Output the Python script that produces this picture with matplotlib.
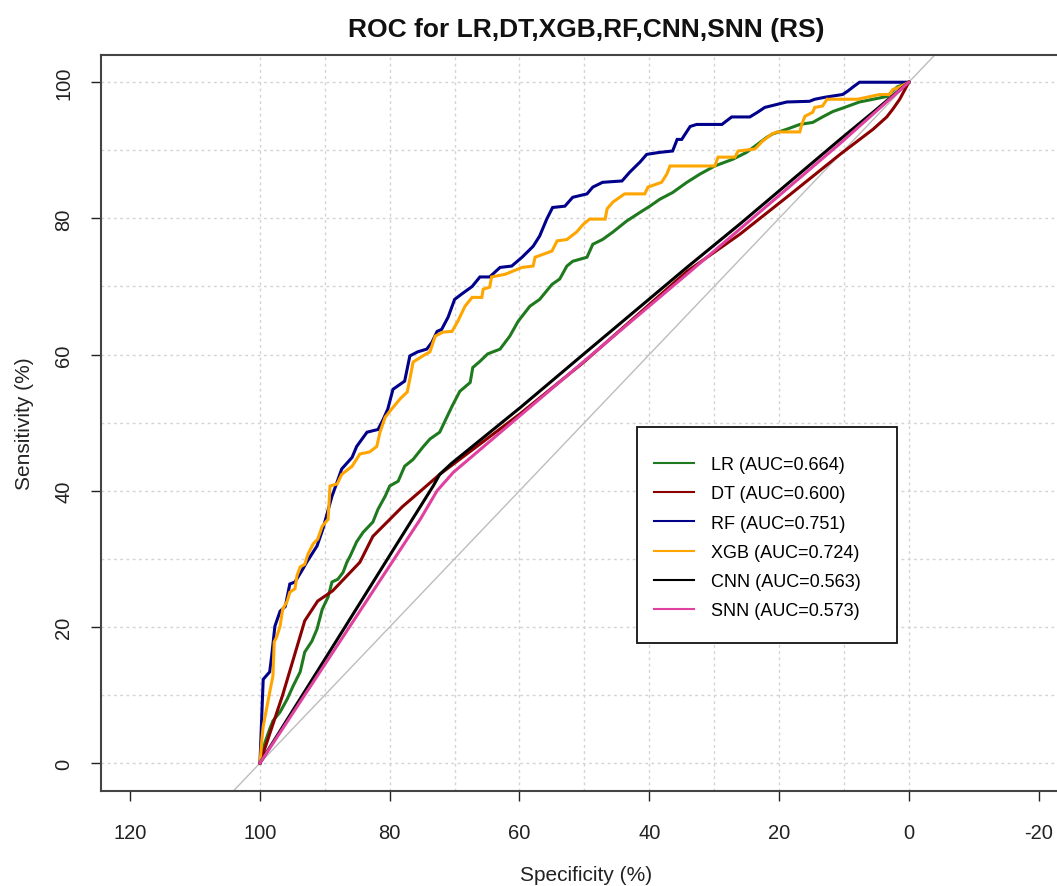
import matplotlib
matplotlib.use("Agg")
import matplotlib.pyplot as plt
from matplotlib.patches import Rectangle

plt.rcParams['font.family'] = ['Liberation Sans', 'DejaVu Sans']
plt.rcParams['axes.unicode_minus'] = False

# ROC curves (specificity %, sensitivity %)
lr_spec = [100, 99.2, 98.5, 98.0, 96.9, 95.8, 94.9, 93.8, 93.1, 92.0, 91.2, 90.4, 89.5, 88.9, 88.0,
           87.2, 86.6, 86.1, 85.1, 84.1, 82.6, 81.8, 80.7, 80.0, 78.7, 77.7, 76.4, 74.9, 73.8, 72.3,
           71.2, 70.4, 69.2, 67.6, 67.2, 66.1, 64.9, 63.0, 61.5, 60.2, 58.4, 56.9, 55.0, 53.8, 52.7,
           51.8, 49.6, 48.7, 47.2, 45.6, 43.5, 41.4, 39.9, 38.4, 36.4, 34.2, 32.2, 29.9, 27.1, 25.0,
           23.3, 21.9, 21.0, 18.8, 16.8, 14.8, 13.3, 11.7, 9.9, 7.6, 5.5, 3.4, 1.8, 0]
lr_sens = [0, 3.1, 5.0, 6.2, 7.5, 9.4, 11.3, 13.4, 16.3, 17.9, 19.7, 22.6, 24.4, 26.6, 27.0,
           28.0, 29.5, 30.4, 32.5, 33.9, 35.4, 37.3, 39.2, 40.7, 41.4, 43.6, 44.6, 46.4, 47.6, 48.6,
           50.8, 52.4, 54.6, 55.9, 58.1, 59.0, 60.1, 60.8, 62.7, 64.9, 67.1, 68.1, 70.3, 71.1, 73.0,
           73.7, 74.3, 76.2, 76.9, 78.0, 79.6, 80.9, 81.8, 82.8, 83.8, 85.3, 86.5, 87.7, 88.7, 89.7,
           90.9, 91.9, 92.4, 93.1, 93.8, 94.1, 94.9, 95.7, 96.3, 97.1, 97.5, 97.9, 99.3, 100]

dt_spec = [100, 96.5, 93.1, 91.1, 88.8, 86.6, 84.6, 82.6, 78.0, 75.8, 72.3, 59.9, 50.2, 34.2,
           26.0, 18.3, 10.6, 5.5, 3.4, 2.5, 1.4, 0]
dt_sens = [0, 10.0, 20.9, 23.8, 25.3, 27.5, 29.5, 33.3, 37.7, 39.5, 42.4, 51.3, 58.8, 72.2,
           77.7, 83.5, 89.4, 93.1, 94.9, 96.0, 97.5, 100]

rf_spec = [100, 99.7, 99.5, 98.5, 98.2, 97.7, 96.9, 96.1, 95.4, 94.6, 93.4, 92.8, 91.2, 90.3, 88.9,
           88.1, 87.4, 85.8, 85.1, 83.5, 81.8, 81.0, 80.3, 79.5, 77.7, 76.9, 75.7, 74.3, 73.5, 72.7,
           72.0, 71.0, 70.0, 68.9, 67.3, 66.1, 64.6, 63.0, 61.2, 59.6, 57.9, 56.9, 55.8, 54.9, 53.0,
           51.8, 49.6, 48.7, 47.2, 44.2, 43.0, 41.4, 40.4, 38.4, 36.4, 35.7, 35.0, 33.7, 32.7, 28.8,
           27.3, 24.5, 23.3, 22.2, 18.8, 15.3, 14.5, 12.9, 10.2, 9.4, 8.6, 7.6, 0]
rf_sens = [0, 7.5, 12.3, 13.4, 15.7, 20.1, 22.3, 23.0, 26.3, 26.6, 28.5, 29.5, 31.9, 34.4, 39.2,
           41.3, 43.2, 44.9, 46.5, 48.6, 49.0, 50.5, 52.0, 54.9, 56.1, 59.8, 60.4, 60.8, 61.8, 63.4,
           63.7, 65.5, 68.1, 68.9, 70.0, 71.4, 71.4, 72.8, 73.0, 74.3, 75.9, 77.4, 79.9, 81.6, 81.8,
           83.1, 83.6, 84.6, 85.3, 85.5, 86.8, 88.3, 89.4, 89.7, 89.9, 91.6, 91.6, 93.5, 93.8, 93.8,
           94.9, 94.9, 95.6, 96.3, 97.1, 97.2, 97.5, 97.8, 98.2, 98.7, 99.3, 100, 100]

xgb_spec = [100, 99.7, 99.5, 98.9, 98.5, 98.0, 97.8, 97.4, 96.9, 96.5, 95.8, 95.4, 94.6, 94.3, 93.8,
            93.1, 92.6, 91.8, 91.1, 90.4, 89.5, 89.2, 88.1, 87.4, 85.8, 84.6, 83.1, 82.0, 81.5, 80.7,
            79.7, 78.4, 77.3, 76.9, 76.4, 74.9, 73.8, 73.0, 71.8, 70.4, 69.5, 68.4, 67.3, 65.8, 65.6,
            64.6, 64.3, 62.2, 59.6, 57.9, 57.6, 55.0, 54.2, 52.7, 51.2, 50.2, 49.2, 46.8, 46.5, 45.6,
            43.8, 40.7, 40.2, 38.1, 37.3, 36.8, 29.9, 29.4, 26.8, 26.3, 23.7, 22.6, 21.1, 20.3, 16.8,
            16.5, 16.0, 14.8, 14.5, 13.3, 12.6, 7.9, 4.5, 2.9, 2.5, 1.4, 0]
xgb_sens = [0, 3.5, 5.4, 8.4, 10.4, 12.8, 17.8, 18.6, 20.1, 22.6, 23.8, 25.1, 25.6, 27.5, 28.8,
            29.2, 30.7, 32.2, 32.9, 34.8, 35.8, 40.7, 41.0, 42.4, 43.6, 45.4, 45.7, 46.5, 48.6, 50.8,
            52.0, 53.5, 54.5, 56.4, 58.9, 59.8, 60.4, 62.7, 63.3, 63.4, 64.9, 67.1, 68.4, 68.4, 69.6,
            69.9, 71.4, 71.8, 72.8, 73.0, 74.3, 75.2, 76.7, 76.9, 78.0, 79.1, 79.9, 79.9, 81.4, 82.4,
            83.6, 83.6, 84.6, 85.3, 86.5, 87.7, 87.7, 89.0, 89.0, 89.9, 90.2, 91.3, 92.4, 92.7, 92.7,
            93.8, 95.0, 95.6, 96.3, 96.5, 97.5, 97.5, 98.2, 98.2, 98.9, 99.3, 100]

cnn_spec = [100, 80.0, 73.3, 72.3, 70.5, 59.9, 50.2, 34.2, 26.0, 18.3, 10.6, 5.5, 0]
cnn_sens = [0, 30.5, 40.7, 42.4, 44.0, 52.2, 60.0, 72.8, 79.2, 85.4, 91.6, 95.6, 100]

snn_spec = [100, 75.3, 72.7, 70.2, 49.7, 33.7, 10.6, 0]
snn_sens = [0, 35.8, 40.0, 42.7, 59.3, 72.2, 91.0, 100]

labels = ['LR (AUC=0.664)', 'DT (AUC=0.600)', 'RF (AUC=0.751)',
          'XGB (AUC=0.724)', 'CNN (AUC=0.563)', 'SNN (AUC=0.573)']
colors = ['#1f7a1f', '#8b0000', '#00008b', '#ffa500', '#000000', '#e0409f']
curves = [(lr_spec, lr_sens), (dt_spec, dt_sens), (rf_spec, rf_sens),
          (xgb_spec, xgb_sens), (cnn_spec, cnn_sens), (snn_spec, snn_sens)]

W, H = 1057, 887
fig = plt.figure(figsize=(W / 100, H / 100), dpi=100)
ax = fig.add_axes([101 / W, 1 - 792 / H, 970 / W, 736 / H])
ax.set_xlim(124.5, -25)
ax.set_ylim(-4.1, 104)

# grid and chance line
for v in range(0, 101, 10):
    ax.axvline(v, color='#d3d3d3', lw=1, ls=(0, (2, 2.5)), zorder=1)
    ax.axhline(v, color='#d3d3d3', lw=1, ls=(0, (2, 2.5)), zorder=1)
ax.axline((100, 0), (0, 100), color='#bdbdbd', lw=1, zorder=2)

for (sp, se), c, lab in zip(curves, colors, labels):
    ax.plot(sp, se, color=c, lw=2.2, label=lab, zorder=3, solid_joinstyle='miter')

for s in ['left', 'top', 'bottom', 'right']:
    ax.spines[s].set_color('#444444')
    ax.spines[s].set_linewidth(1.5)

ax.set_xticks([120, 100, 80, 60, 40, 20, 0, -20])
ax.set_yticks([0, 20, 40, 60, 80, 100])
ax.tick_params(axis='x', direction='out', length=7, width=1, pad=16,
               labelsize=14.5, colors='#222222')
ax.tick_params(axis='y', direction='out', length=7, width=1, pad=13,
               labelsize=14.5, colors='#222222', labelrotation=90)
for t in ax.get_yticklabels():
    t.set_verticalalignment('center')

fig.text(586 / W, 1 - 30 / H, 'ROC for LR,DT,XGB,RF,CNN,SNN (RS)', ha='center', va='center',
         fontsize=19, fontweight='bold', color='#111111')
fig.text(586 / W, 1 - 876 / H, 'Specificity (%)', ha='center', va='center',
         fontsize=15, color='#222222')
fig.text(25 / W, 1 - 424 / H, 'Sensitivity (%)', ha='center', va='center', rotation=90,
         fontsize=15, color='#222222')

# legend box drawn separately (R style padding)
box = Rectangle((637 / W, 1 - 644 / H), 260 / W, 216 / H, transform=fig.transFigure,
                facecolor='white', edgecolor='#111111', lw=1.3, zorder=5)
ax.add_artist(box)
box.set_clip_on(False)
leg = ax.legend(loc='upper left', bbox_to_anchor=(654 / W, 1 - 457 / H),
                bbox_transform=fig.transFigure, frameon=False, fontsize=13,
                handlelength=2.2, handletextpad=0.95, labelspacing=0.68,
                borderpad=0, borderaxespad=0)
leg.set_zorder(6)
for line in leg.get_lines():
    line.set_linewidth(1.5)

fig.savefig('out.png', dpi=100)
